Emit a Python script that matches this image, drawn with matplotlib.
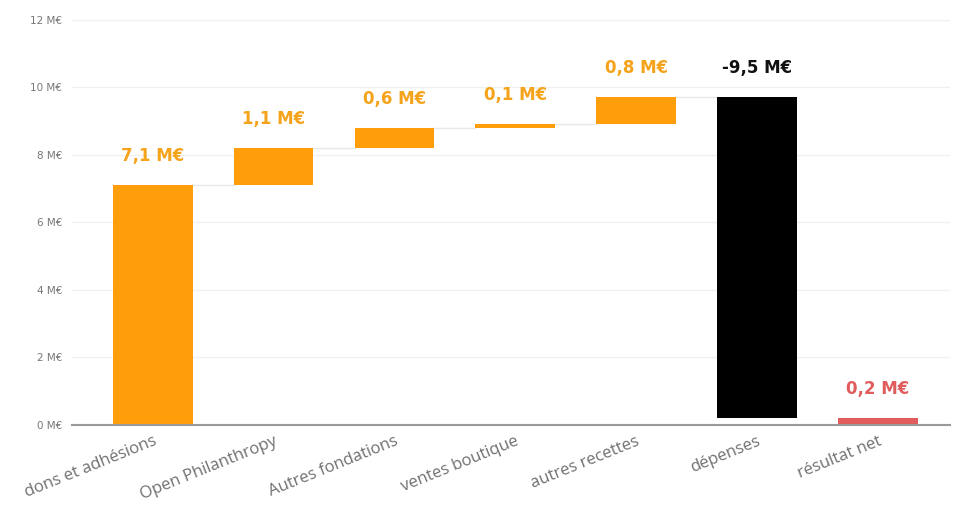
import matplotlib.pyplot as plt
import matplotlib.transforms as mtransforms
import numpy as np

plt.rcParams['font.family'] = ['Open Sans', 'DejaVu Sans']

# data (M€)
categories = ['dons et adhésions', 'Open Philanthropy', 'Autres fondations',
              'ventes boutique', 'autres recettes', 'dépenses', 'résultat net']
deltas = [7.1, 1.1, 0.6, 0.1, 0.8, -9.5]
labels = ['7,1 M€', '1,1 M€', '0,6 M€', '0,1 M€', '0,8 M€', '-9,5 M€', '0,2 M€']
yticks = [0, 2, 4, 6, 8, 10, 12]
ytick_labels = ['0 M€', '2 M€', '4 M€', '6 M€', '8 M€', '10 M€', '12 M€']

orange = '#ff9e0a'
label_orange = '#f5a31a'
red = '#e15c5c'

# waterfall bottoms / heights
bottoms = []
heights = []
running = 0.0
for d in deltas:
    if d >= 0:
        bottoms.append(running)
        heights.append(d)
    else:
        bottoms.append(running + d)
        heights.append(-d)
    running += d
net = running
bottoms.append(0)
heights.append(net)

colors = [orange] * 5 + ['black', red]
label_colors = [label_orange] * 5 + ['#111111', red]

fig = plt.figure(figsize=(9.57, 5.07), dpi=100)
ax = fig.add_axes([0.075, 0.162, 0.918, 0.799])

x = np.arange(len(categories))
width = 0.66
ax.bar(x, heights, bottom=bottoms, width=width, color=colors, zorder=3)

# connector lines (between increments and to the expenses bar)
levels = np.cumsum(deltas)
for i in range(len(deltas) - 1):
    ax.plot([x[i] + width / 2, x[i + 1] - width / 2], [levels[i], levels[i]],
            color='#e8e8e8', lw=1, zorder=2)

# value labels
for i in range(len(categories)):
    top = bottoms[i] + heights[i]
    ax.text(x[i], top + 0.6, labels[i], ha='center', va='bottom',
            fontsize=12, fontweight='bold', color=label_colors[i],
            family='DejaVu Sans')

ax.set_xlim(-0.67, 6.6)
ax.set_ylim(0, 12)
ax.set_yticks(yticks)
ax.set_yticklabels(ytick_labels, fontsize=7.5, color='#777777', family='DejaVu Sans')
ax.set_xticks(x)
ax.set_xticklabels(categories, rotation=22, ha='right', rotation_mode='anchor',
                   fontsize=12, color='#707070')
offset = mtransforms.ScaledTranslation(10 / 100, 0, fig.dpi_scale_trans)
for lab in ax.get_xticklabels():
    lab.set_transform(lab.get_transform() + offset)
ax.tick_params(axis='both', length=0)
ax.tick_params(axis='y', pad=7)
ax.tick_params(axis='x', pad=6)
ax.grid(axis='y', color='#f0f0f0', lw=1, zorder=0)
for s in ['top', 'right', 'left']:
    ax.spines[s].set_visible(False)
ax.spines['bottom'].set_color('#999999')
ax.spines['bottom'].set_linewidth(1.5)
ax.spines['bottom'].set_zorder(4)

fig.savefig('out.png', dpi=100)
